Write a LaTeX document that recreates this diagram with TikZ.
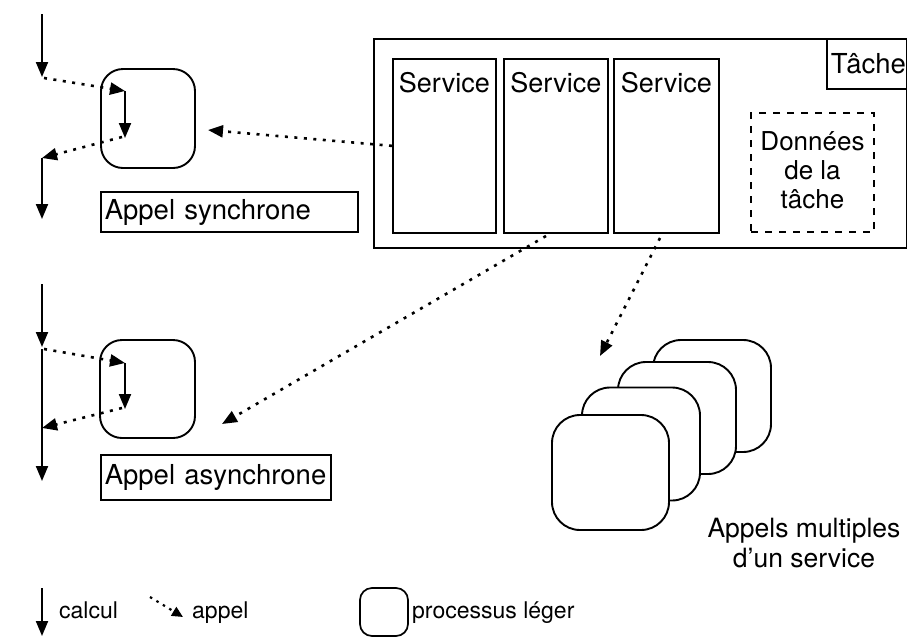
\documentclass[tikz,border=0pt]{standalone}
\usepackage{fontspec}
\setmainfont{TeX Gyre Heros}
\usetikzlibrary{arrows.meta}
\begin{document}
\begin{tikzpicture}[x=1pt,y=-1pt,
  box/.style={draw, line width=1.7pt, inner sep=0pt},
  proc/.style={draw, line width=1.9pt, fill=white, rounded corners=22pt, inner sep=0pt},
  calcarrow/.style={line width=2pt, -{Triangle[length=15pt,width=12pt]}},
  callarrow/.style={line width=2.6pt, dash pattern=on 3pt off 6.5pt, -{Triangle[length=15pt,width=12pt]}},
  lbl/.style={font=\fontsize{27}{30}\selectfont},
  leg/.style={font=\fontsize{23}{27}\selectfont, anchor=base west, inner sep=0pt},
  tbox/.style={draw, line width=1.6pt, font=\fontsize{27.5}{31}\selectfont, inner xsep=4pt, inner ysep=0pt, align=left, anchor=west}
]
\useasboundingbox (0,0) rectangle (907,638);

% ---------- Tâche ----------
\node[box, anchor=north west, minimum width=533pt, minimum height=209pt] (tache) at (373,38) {};
\node[tbox, minimum height=50pt, text width=72pt, anchor=north west] (tachelbl) at (826,38) {Tâche};
\foreach \n/\x/\w in {s1/392/103, s2/503/104, s3/613/105}{
  \node[box, anchor=north west, minimum width=\w pt, minimum height=174pt] (\n) at (\x,58) {};
  \node[lbl, anchor=north, inner sep=0pt] (\n t) at ([yshift=-14pt]\n.north) {Service};
}
\node[draw, line width=2pt, dash pattern=on 7pt off 7pt, anchor=north west, minimum width=123pt, minimum height=119pt] (donnees) at (750,112) {};
\node[font=\fontsize{26}{29}\selectfont, align=center, inner sep=0pt] (donneest) at ([yshift=2pt]donnees.center) {Données\\de la\\tâche};

% ---------- Appel synchrone ----------
\node[proc, minimum width=94pt, minimum height=99pt] (sproc) at (148,118.5) {};
\node[tbox, minimum height=40pt, text width=249pt] (slbl) at (100,212) {Appel synchrone};
\coordinate (sa0) at (42,14);
\coordinate (sa1) at (42,77);
\coordinate (sb0) at (44,78);
\coordinate (sb1) at (125,91);
\coordinate (sc1) at (125,138);
\coordinate (sd0) at (122,137);
\coordinate (sd1) at (42,158);
\coordinate (se1) at (42,219);
\draw[calcarrow] (sa0) -- (sa1);
\draw[callarrow] (sb0) -- (sb1);
\draw[calcarrow] (sb1) -- (sc1);
\draw[callarrow] (sd0) -- (sd1);
\draw[calcarrow] (sd1) -- (se1);

% ---------- Appel asynchrone ----------
\node[proc, minimum width=95pt, minimum height=98pt] (aproc) at (147.5,389) {};
\node[tbox, minimum height=45pt, text width=222pt] (albl) at (100,477.5) {Appel asynchrone};
\coordinate (aa0) at (42,284);
\coordinate (aa1) at (42,347);
\coordinate (aa2) at (42,349);
\coordinate (aa3) at (42,481);
\coordinate (ab0) at (44,349);
\coordinate (ab1) at (125,363);
\coordinate (ac1) at (125,409);
\coordinate (ad0) at (122,408);
\coordinate (ad1) at (42,428);
\draw[calcarrow] (aa0) -- (aa1);
\draw[calcarrow] (aa2) -- (aa3);
\draw[callarrow] (ab0) -- (ab1);
\draw[calcarrow] (ab1) -- (ac1);
\draw[callarrow] (ad0) -- (ad1);

% ---------- Appels multiples ----------
\node[proc, rounded corners=28pt, minimum width=118pt, minimum height=112pt] (m4) at (712,396) {};
\node[proc, rounded corners=28pt, minimum width=118pt, minimum height=112pt] (m3) at (677,418) {};
\node[proc, rounded corners=28pt, minimum width=118pt, minimum height=113pt] (m2) at (641,444) {};
\node[proc, rounded corners=28pt, minimum width=117pt, minimum height=115pt] (m1) at (610.5,472.5) {};
\node[font=\fontsize{26.5}{30}\selectfont, align=center, inner sep=0pt, anchor=north] (mlbl) at (804,518) {Appels multiples\\d’un service};

% ---------- calls from services ----------
\coordinate (c1) at (208,130);
\coordinate (c2s) at (546,236);
\coordinate (c2) at (222,424);
\coordinate (c3s) at (660,238);
\coordinate (c3) at (600,356);
\draw[callarrow] (s1.west) -- (c1);
\draw[callarrow] (c2s) -- (c2);
\draw[callarrow] (c3s) -- (c3);

% ---------- legend ----------
\coordinate (l1a) at (42,588);
\coordinate (l1b) at (42,636);
\draw[calcarrow] (l1a) -- (l1b);
\node[leg] (lcalc) at (59,618) {calcul};
\coordinate (l2a) at (150,597);
\coordinate (l2b) at (183,617);
\draw[line width=2.2pt, dash pattern=on 2.5pt off 5pt, -{Triangle[length=11pt,width=10pt]}] (l2a) -- (l2b);
\node[leg] (lcall) at (192,618) {appel};
\node[proc, line width=1.7pt, rounded corners=12pt, minimum width=48pt, minimum height=48pt] (lproc) at (384,612) {};
\node[leg] (lprocl) at (412,618) {processus léger};
\end{tikzpicture}
\end{document}
